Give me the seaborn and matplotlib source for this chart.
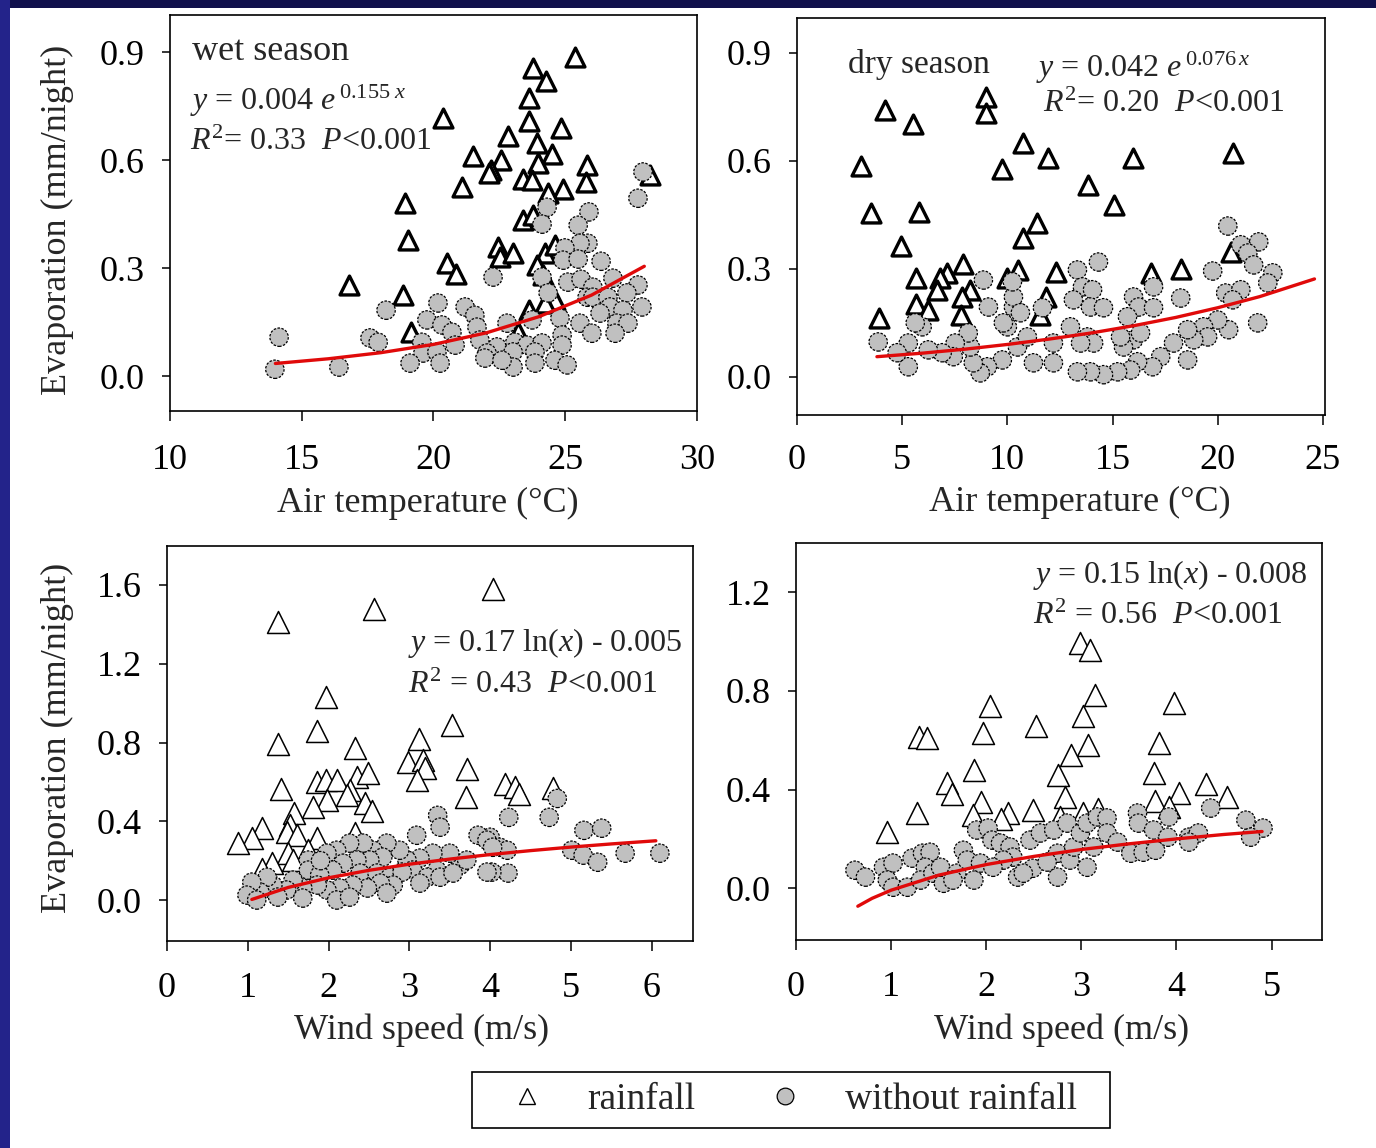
import numpy as np
import pandas as pd
import matplotlib
matplotlib.use("Agg")
import matplotlib.pyplot as plt
from matplotlib.lines import Line2D
from matplotlib.patches import Rectangle
import seaborn as sns

sns.set_theme(style="white")
plt.rcParams['font.family'] = ['Liberation Serif', 'DejaVu Serif']
plt.rcParams['mathtext.fontset'] = 'custom'
plt.rcParams['mathtext.rm'] = 'Liberation Serif'
plt.rcParams['mathtext.it'] = 'Liberation Serif:italic'

# ---------------- data ----------------
# Panel A: wet season, air temperature
wet_rain_x = [25.37, 23.78, 24.27, 23.62, 20.36, 23.62, 22.83, 24.84, 23.93, 24.50, 21.50, 22.56, 23.97,
              22.18, 22.11, 25.83, 25.79, 23.40, 23.74, 21.08, 24.91, 24.35, 18.92, 23.40, 23.78, 19.03,
              22.45, 22.52, 23.02, 24.23, 24.61, 20.51, 20.85, 23.93, 24.16, 18.84, 24.61, 23.62, 24.23,
              19.15, 23.21, 28.22, 16.79]
wet_rain_y = [0.886, 0.856, 0.819, 0.772, 0.717, 0.708, 0.667, 0.689, 0.647, 0.617, 0.611, 0.600, 0.592,
              0.572, 0.564, 0.586, 0.539, 0.547, 0.544, 0.525, 0.519, 0.508, 0.481, 0.433, 0.447, 0.378,
              0.358, 0.331, 0.342, 0.342, 0.364, 0.314, 0.283, 0.308, 0.281, 0.225, 0.211, 0.183, 0.203,
              0.122, 0.122, 0.558, 0.253]
wet_dry_x = [13.98, 14.14, 16.41, 17.59, 18.20, 17.90, 27.95, 27.76, 24.31, 25.90, 24.12, 25.49, 25.86,
             25.56, 24.99, 24.92, 25.49, 26.36, 22.26, 24.12, 25.10, 25.60, 26.05, 26.81, 27.76, 24.35,
             25.83, 26.05, 26.62, 27.34, 20.17, 21.20, 21.57, 27.91, 26.70, 27.19, 26.32, 19.75, 20.32,
             20.70, 21.65, 22.79, 23.74, 24.80, 25.56, 26.96, 27.38, 26.01, 26.89, 19.56, 20.82, 21.76,
             22.41, 23.09, 23.55, 24.12, 24.88, 24.88, 19.60, 20.13, 22.03, 23.02, 23.85, 19.11, 20.25,
             21.95, 23.02, 23.85, 24.61, 25.07, 22.60]
wet_dry_y = [0.019, 0.108, 0.025, 0.106, 0.183, 0.094, 0.567, 0.494, 0.469, 0.456, 0.422, 0.419, 0.369,
             0.369, 0.356, 0.322, 0.325, 0.319, 0.275, 0.275, 0.261, 0.269, 0.247, 0.272, 0.253, 0.231,
             0.219, 0.219, 0.219, 0.231, 0.203, 0.192, 0.169, 0.192, 0.192, 0.183, 0.175, 0.156, 0.142,
             0.122, 0.136, 0.147, 0.156, 0.161, 0.147, 0.147, 0.147, 0.119, 0.119, 0.094, 0.086, 0.100,
             0.081, 0.094, 0.086, 0.092, 0.114, 0.086, 0.064, 0.067, 0.064, 0.067, 0.067, 0.036, 0.036,
             0.050, 0.025, 0.036, 0.044, 0.031, 0.044]
wet_fit_x = [14, 16, 18, 20, 22, 24, 26, 28]
wet_fit_y = [0.035, 0.048, 0.065, 0.088, 0.120, 0.165, 0.225, 0.305]

# Panel B: dry season, air temperature
dry_rain_x = [4.19, 5.52, 9.00, 9.00, 3.05, 9.76, 10.76, 11.95, 15.95, 20.71, 13.81, 15.05, 3.52, 5.81,
              11.43, 10.76, 4.95, 20.62, 5.67, 7.90, 7.14, 6.81, 6.67, 10.00, 10.52, 12.29, 16.81, 18.24,
              8.24, 7.86, 5.67, 6.24, 7.81, 3.90, 11.86, 11.57]
dry_rain_y = [0.742, 0.703, 0.778, 0.733, 0.586, 0.578, 0.650, 0.608, 0.608, 0.622, 0.533, 0.478, 0.456,
              0.458, 0.428, 0.386, 0.364, 0.347, 0.275, 0.314, 0.289, 0.275, 0.242, 0.275, 0.297, 0.292,
              0.289, 0.300, 0.242, 0.222, 0.203, 0.186, 0.172, 0.164, 0.222, 0.172]
dry_dry_x = [20.48, 21.95, 21.10, 21.43, 21.71, 22.62, 22.38, 19.76, 18.24, 20.38, 21.10, 20.71, 21.90,
             20.52, 20.00, 19.33, 19.52, 18.86, 18.57, 17.90, 18.57, 17.29, 16.90, 16.19, 15.86, 15.24,
             14.57, 13.95, 13.33, 14.33, 13.33, 13.57, 14.05, 13.14, 13.95, 14.57, 16.00, 16.24, 16.95,
             16.95, 15.71, 16.00, 16.33, 15.52, 15.38, 13.00, 13.81, 14.10, 13.48, 12.19, 12.19, 11.24,
             10.48, 10.95, 10.00, 10.29, 10.29, 10.62, 11.67, 10.24, 9.81, 9.76, 9.10, 8.86, 9.05, 8.71,
             8.38, 8.24, 8.14, 7.52, 7.43, 6.90, 6.24, 5.95, 5.62, 5.29, 5.29, 4.76, 3.86]
dry_dry_y = [0.419, 0.375, 0.367, 0.344, 0.311, 0.289, 0.261, 0.294, 0.219, 0.233, 0.242, 0.214, 0.150,
             0.131, 0.158, 0.139, 0.111, 0.103, 0.131, 0.094, 0.047, 0.056, 0.028, 0.042, 0.019, 0.014,
             0.006, 0.014, 0.014, 0.319, 0.297, 0.250, 0.242, 0.214, 0.194, 0.192, 0.222, 0.194, 0.192,
             0.250, 0.167, 0.103, 0.122, 0.083, 0.111, 0.139, 0.111, 0.094, 0.094, 0.094, 0.039, 0.039,
             0.083, 0.111, 0.139, 0.194, 0.222, 0.178, 0.192, 0.264, 0.150, 0.047, 0.194, 0.269, 0.028,
             0.011, 0.039, 0.083, 0.122, 0.094, 0.056, 0.067, 0.075, 0.139, 0.150, 0.094, 0.028, 0.067,
             0.097]
dry_fit_x = [3.8, 6, 8, 10, 12, 14, 16, 18, 20, 22, 24.6]
dry_fit_y = [0.056, 0.066, 0.077, 0.090, 0.105, 0.122, 0.142, 0.165, 0.192, 0.223, 0.272]

# Panel C: wet season, wind speed
wws_rain_x = [4.03, 2.56, 1.37, 1.97, 1.86, 3.53, 1.37, 2.33, 3.12, 2.98, 3.17, 3.19, 3.09, 3.71, 1.41,
              1.86, 1.97, 2.10, 2.35, 2.49, 2.26, 2.23, 1.98, 1.81, 2.45, 2.54, 3.70, 4.18, 1.57, 1.52,
              1.48, 1.61, 2.33, 1.18, 1.05, 0.88, 1.86, 1.50, 1.75, 1.30, 1.18, 1.56, 4.31, 4.36, 4.78]
wws_rain_y = [1.580, 1.480, 1.410, 1.030, 0.856, 0.891, 0.795, 0.770, 0.820, 0.699, 0.709, 0.673, 0.608,
              0.663, 0.562, 0.597, 0.608, 0.608, 0.623, 0.643, 0.557, 0.532, 0.506, 0.471, 0.491, 0.451,
              0.522, 0.587, 0.440, 0.380, 0.344, 0.329, 0.339, 0.365, 0.314, 0.289, 0.314, 0.238, 0.253,
              0.187, 0.157, 0.203, 0.572, 0.541, 0.567]
wws_dry_x = [4.83, 4.23, 4.73, 5.16, 5.38, 5.01, 5.15, 5.33, 5.67, 6.10, 4.00, 4.12, 4.21, 4.22, 4.02,
             3.35, 3.38, 3.09, 3.85, 3.96, 4.03, 3.96, 3.63, 3.50, 3.29, 3.34, 3.13, 2.97, 3.04, 3.22,
             2.88, 2.72, 2.55, 2.43, 2.26, 2.10, 1.98, 1.75, 1.75, 2.67, 2.51, 2.35, 2.18, 2.05, 1.89,
             2.39, 2.60, 2.76, 2.91, 3.13, 2.80, 2.64, 2.48, 2.30, 2.14, 1.98, 1.86, 1.68, 1.56, 1.48,
             1.31, 1.24, 1.15, 1.05, 0.99, 1.11, 1.37, 1.68, 2.10, 2.26, 2.72, 3.38, 3.54, 3.71, 1.90]
wws_dry_y = [0.516, 0.420, 0.420, 0.354, 0.365, 0.253, 0.228, 0.192, 0.238, 0.238, 0.319, 0.268, 0.253,
             0.137, 0.142, 0.430, 0.370, 0.329, 0.329, 0.304, 0.268, 0.142, 0.177, 0.238, 0.238, 0.152,
             0.213, 0.203, 0.152, 0.116, 0.253, 0.289, 0.253, 0.289, 0.289, 0.253, 0.238, 0.203, 0.152,
             0.218, 0.203, 0.203, 0.187, 0.152, 0.127, 0.137, 0.137, 0.116, 0.142, 0.086, 0.076, 0.086,
             0.061, 0.076, 0.061, 0.051, 0.076, 0.061, 0.101, 0.051, 0.076, 0.116, 0.041, 0.091, 0.025,
             0.000, 0.015, 0.010, 0.000, 0.015, 0.035, 0.116, 0.137, 0.203, 0.200]
wws_fit_x = [1.05, 1.5, 2.0, 2.5, 3.0, 3.5, 4.0, 4.5, 5.0, 5.5, 6.05]
wws_fit_y = [0.003, 0.064, 0.113, 0.151, 0.182, 0.208, 0.231, 0.251, 0.269, 0.285, 0.301]

# Panel D: dry season, wind speed
dws_rain_x = [2.99, 3.09, 3.14, 3.97, 2.04, 3.02, 2.52, 1.29, 1.38, 1.97, 3.07, 3.82, 2.89, 1.87, 2.75,
              3.76, 1.59, 1.64, 4.31, 4.53, 4.03, 1.95, 2.83, 3.77, 1.27, 0.96, 1.86, 2.23, 2.16, 2.49,
              3.02, 3.18, 2.78, 3.92]
dws_rain_y = [0.994, 0.967, 0.785, 0.751, 0.740, 0.699, 0.659, 0.614, 0.610, 0.630, 0.581, 0.589, 0.541,
              0.480, 0.459, 0.467, 0.427, 0.382, 0.423, 0.370, 0.386, 0.350, 0.370, 0.354, 0.305, 0.228,
              0.297, 0.305, 0.280, 0.317, 0.305, 0.321, 0.289, 0.329]
dws_dry_x = [0.62, 0.73, 0.92, 1.02, 0.96, 1.02, 1.17, 1.22, 1.33, 1.41, 1.36, 1.31, 1.44, 1.55, 1.52,
             1.69, 1.76, 1.80, 1.87, 1.94, 1.90, 2.02, 2.06, 2.15, 2.25, 2.28, 2.18, 2.07, 2.33, 2.49,
             2.46, 2.57, 2.71, 2.85, 2.75, 2.75, 2.88, 2.92, 2.99, 3.06, 3.17, 3.27, 3.06, 3.13, 3.27,
             3.38, 3.52, 3.59, 3.60, 3.65, 3.78, 3.76, 3.92, 3.91, 4.13, 4.23, 4.13, 4.36, 4.73, 4.91,
             4.78, 2.39, 2.64, 1.65]
dws_dry_y = [0.073, 0.045, 0.085, 0.102, 0.033, 0.004, 0.004, 0.122, 0.142, 0.146, 0.085, 0.033, 0.061,
             0.020, 0.085, 0.061, 0.154, 0.114, 0.033, 0.102, 0.236, 0.244, 0.195, 0.183, 0.167, 0.126,
             0.114, 0.085, 0.045, 0.081, 0.195, 0.224, 0.236, 0.264, 0.142, 0.045, 0.114, 0.167, 0.224,
             0.264, 0.289, 0.285, 0.085, 0.167, 0.224, 0.187, 0.142, 0.305, 0.264, 0.146, 0.154, 0.236,
             0.289, 0.207, 0.207, 0.224, 0.187, 0.325, 0.276, 0.244, 0.207, 0.061, 0.106, 0.033]
dws_fit_x = [0.65, 0.8, 1.0, 1.5, 2.0, 2.5, 3.0, 3.5, 4.0, 4.5, 4.9]
dws_fit_y = [-0.073, -0.041, -0.008, 0.053, 0.096, 0.129, 0.157, 0.180, 0.200, 0.218, 0.230]

x_ticks_a = [10, 15, 20, 25, 30]
x_ticks_b = [0, 5, 10, 15, 20, 25]
x_ticks_c = [0, 1, 2, 3, 4, 5, 6]
x_ticks_d = [0, 1, 2, 3, 4, 5]
y_ticks_top = [0.0, 0.3, 0.6, 0.9]
y_ticks_c = [0.0, 0.4, 0.8, 1.2, 1.6]
y_ticks_d = [0.0, 0.4, 0.8, 1.2]

legend_labels = ["rainfall", "without rainfall"]
ylabel_text = "Evaporation (mm/night)"
xlabel_temp = "Air temperature (\u00b0C)"
xlabel_wind = "Wind speed (m/s)"

# ---------------- figure ----------------
W, H = 1376, 1148
fig = plt.figure(figsize=(W / 100, H / 100), dpi=100, facecolor="white")

def fx(px):
    return px / W

def fy(py):
    return 1 - py / H

def add_axes(l, t, r, b):
    return fig.add_axes([fx(l), fy(b), fx(r) - fx(l), fy(t) - fy(b)])

# navy frame
fig.patches.append(Rectangle((0, fy(8)), 1, 1 - fy(8), transform=fig.transFigure,
                             facecolor="#10104c", edgecolor="none", zorder=0))
fig.patches.append(Rectangle((0, 0), fx(10), 1, transform=fig.transFigure,
                             facecolor="#23238a", edgecolor="none", zorder=0))

GRAY = "#c0c0c0"
RED = "#e00a0a"
FS = 26

panels = [
    dict(box=(170, 15, 697, 411), rx=wet_rain_x, ry=wet_rain_y, dx=wet_dry_x, dy=wet_dry_y,
         fx_=wet_fit_x, fy_=wet_fit_y, xlim=(10, 30), ylim=(-0.097, 1.003), xt=x_ticks_a, yt=y_ticks_top,
         tri_lw=2.4, tri_s=185, xpad=17),
    dict(box=(797, 18, 1325, 415), rx=dry_rain_x, ry=dry_rain_y, dx=dry_dry_x, dy=dry_dry_y,
         fx_=dry_fit_x, fy_=dry_fit_y, xlim=(0, 25.1), ylim=(-0.106, 0.997), xt=x_ticks_b, yt=y_ticks_top,
         tri_lw=2.4, tri_s=185, xpad=14),
    dict(box=(167, 546, 693, 941), rx=wws_rain_x, ry=wws_rain_y, dx=wws_dry_x, dy=wws_dry_y,
         fx_=wws_fit_x, fy_=wws_fit_y, xlim=(0, 6.51), ylim=(-0.208, 1.798), xt=x_ticks_c, yt=y_ticks_c,
         tri_lw=1.1, tri_s=250, xpad=15),
    dict(box=(796, 543, 1322, 940), rx=dws_rain_x, ry=dws_rain_y, dx=dws_dry_x, dy=dws_dry_y,
         fx_=dws_fit_x, fy_=dws_fit_y, xlim=(0, 5.53), ylim=(-0.21, 1.40), xt=x_ticks_d, yt=y_ticks_d,
         tri_lw=1.1, tri_s=250, xpad=15),
]

axes = []
for p in panels:
    ax = add_axes(*p["box"])
    rain = pd.DataFrame({"x": p["rx"], "y": p["ry"]})
    dry = pd.DataFrame({"x": p["dx"], "y": p["dy"]})
    fit = pd.DataFrame({"x": p["fx_"], "y": p["fy_"]})
    sns.scatterplot(data=rain, x="x", y="y", ax=ax, marker="^", s=p["tri_s"], facecolor="white",
                    edgecolor="black", linewidth=p["tri_lw"], zorder=3)
    sns.scatterplot(data=dry, x="x", y="y", ax=ax, marker="o", s=175, facecolor=GRAY,
                    edgecolor="black", linewidth=0.9, linestyle=(0, (2, 1.2)), zorder=4)
    sns.lineplot(data=fit, x="x", y="y", ax=ax, color=RED, linewidth=2.4, zorder=5, sort=False)
    ax.set_xlim(*p["xlim"])
    ax.set_ylim(*p["ylim"])
    ax.set_xticks(p["xt"])
    ax.set_xticklabels([str(v) for v in p["xt"]])
    ax.set_yticks(p["yt"])
    ax.set_yticklabels(["{:.1f}".format(v) for v in p["yt"]])
    ax.set_xlabel("")
    ax.set_ylabel("")
    ax.set_facecolor("white")
    for s in ax.spines.values():
        s.set_visible(True)
        s.set_color("black")
        s.set_linewidth(1.2)
    ax.tick_params(axis="both", which="major", labelsize=FS, colors="black", direction="out",
                   width=1.1)
    ax.tick_params(axis="y", length=6, pad=12, left=True, right=False)
    ax.tick_params(axis="x", length=7, pad=p["xpad"], bottom=True, top=False)
    ax.grid(False)
    axes.append(ax)

# axis labels
for ycen in (220, 738):
    fig.text(fx(57), fy(ycen), ylabel_text, rotation=90, ha="center", va="center", fontsize=FS)
fig.text(fx(428), fy(503), xlabel_temp, ha="center", va="center", fontsize=FS)
fig.text(fx(1080), fy(502), xlabel_temp, ha="center", va="center", fontsize=FS)
fig.text(fx(422), fy(1030), xlabel_wind, ha="center", va="center", fontsize=FS)
fig.text(fx(1062), fy(1030), xlabel_wind, ha="center", va="center", fontsize=FS)

# annotations
EFS = 23
fig.text(fx(192), fy(52), "wet season", ha="left", va="center", fontsize=FS)
fig.text(fx(190), fy(101), r"$y$ = 0.004 $e^{\,0.155\ x}$", ha="left", va="center", fontsize=EFS)
fig.text(fx(190), fy(142), r"$R^2$= 0.33  $P$<0.001", ha="left", va="center", fontsize=EFS)

fig.text(fx(848), fy(65), "dry season", ha="left", va="center", fontsize=EFS + 1)
fig.text(fx(1036), fy(68), r"$y$ = 0.042 $e^{\,0.076\,x}$", ha="left", va="center", fontsize=EFS)
fig.text(fx(1043), fy(104), r"$R^2$= 0.20  $P$<0.001", ha="left", va="center", fontsize=EFS)

fig.text(fx(408), fy(643), r"$y$ = 0.17 ln($x$) - 0.005", ha="left", va="center", fontsize=EFS)
fig.text(fx(408), fy(685), r"$R^2$ = 0.43  $P$<0.001", ha="left", va="center", fontsize=EFS)

fig.text(fx(1033), fy(575), r"$y$ = 0.15 ln($x$) - 0.008", ha="left", va="center", fontsize=EFS)
fig.text(fx(1033), fy(616), r"$R^2$ = 0.56  $P$<0.001", ha="left", va="center", fontsize=EFS)

# legend (frame drawn as a separate box)
fig.patches.append(Rectangle((fx(472), fy(1128)), fx(1110) - fx(472), fy(1072) - fy(1128),
                             transform=fig.transFigure, facecolor="white", edgecolor="black",
                             linewidth=1.2, zorder=1))
handles = [
    Line2D([], [], linestyle="none", marker="^", markersize=11, markerfacecolor="white",
           markeredgecolor="black", markeredgewidth=1.0),
    Line2D([], [], linestyle="none", marker="o", markersize=12, markerfacecolor=GRAY,
           markeredgecolor="black", markeredgewidth=0.9),
]
leg = fig.legend(handles, legend_labels, loc="center left", bbox_to_anchor=(fx(482), fy(1100)), ncol=2,
                 fontsize=FS + 1, frameon=False, handlelength=2.4, handletextpad=0.4,
                 columnspacing=1.2, borderpad=0, borderaxespad=0)
leg.set_zorder(2)

fig.savefig("out.png", dpi=100, facecolor="white")
